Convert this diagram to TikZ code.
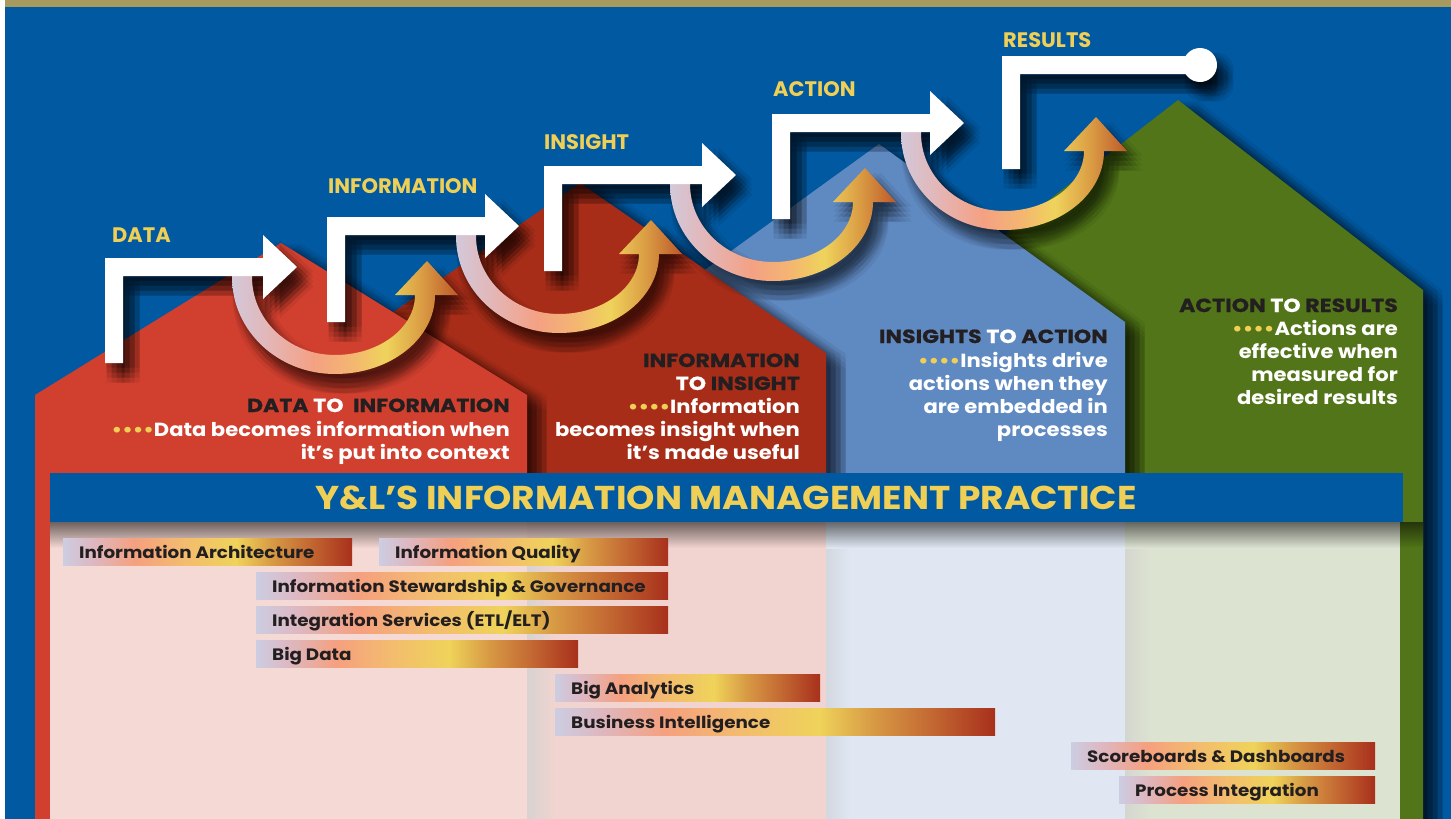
\documentclass[tikz,border=0pt]{standalone}
\usepackage{fontspec}
\setmainfont{Poppins}
\newfontfamily\headf{Poppins}[FakeStretch=1.16, BoldFeatures={FakeBold=0.6}]
\newfontfamily\bodyf{Poppins}[FakeStretch=1.11]
\newfontfamily\titlef{Poppins}[FakeStretch=1.09]
\newfontfamily\barf{Poppins}[FakeStretch=1.11]
\usetikzlibrary{calc}

\definecolor{bgblue}{HTML}{0059A1}
\definecolor{goldstrip}{HTML}{A69A5E}
\definecolor{hred}{HTML}{D1402F}
\definecolor{hdred}{HTML}{A72D19}
\definecolor{hblue}{HTML}{5F89C1}
\definecolor{hgreen}{HTML}{517518}
\definecolor{pred}{HTML}{F5D9D4}
\definecolor{pdred}{HTML}{F1D4CF}
\definecolor{pblue}{HTML}{E0E7F2}
\definecolor{pgreen}{HTML}{DCE3D1}
\definecolor{gold}{HTML}{EFCF55}
\definecolor{ink}{HTML}{231F20}
\definecolor{sred}{HTML}{D8D2D1}
\definecolor{sblue}{HTML}{D3D7DF}
\definecolor{sgreen}{HTML}{D4D6CF}

\definecolor{g0}{HTML}{CCCDE2}
\definecolor{g1}{HTML}{DDB8C2}
\definecolor{g2}{HTML}{F5A07F}
\definecolor{g3}{HTML}{F3BC6E}
\definecolor{g4}{HTML}{EFD35A}
\definecolor{g5}{HTML}{D89B45}
\definecolor{g6}{HTML}{C46A33}
\definecolor{g7}{HTML}{A8301C}

\definecolor{a0}{HTML}{D3C8DA}
\definecolor{a1}{HTML}{E6B3B0}
\definecolor{a2}{HTML}{F4A183}
\definecolor{a3}{HTML}{F4B472}
\definecolor{a4}{HTML}{EFD35C}
\definecolor{a5}{HTML}{DCA045}
\definecolor{a6}{HTML}{BD582A}

\pgfdeclarehorizontalshading{barshade}{100bp}{color(0bp)=(g0); color(25bp)=(g0); color(30bp)=(g1); color(37.5bp)=(g2); color(46bp)=(g3); color(55bp)=(g4); color(61bp)=(g5); color(67.5bp)=(g6); color(75bp)=(g7); color(100bp)=(g7)}
\pgfdeclarehorizontalshading{arcshade}{100bp}{color(0bp)=(a0); color(25bp)=(a0); color(34.5bp)=(a1); color(43bp)=(a2); color(51bp)=(a3); color(59bp)=(a4); color(66.5bp)=(a5); color(75bp)=(a6); color(100bp)=(a6)}

\def\redhouse{(35,840) -- (35,395) -- (281,243) -- (527,395) -- (527,840) -- cycle}
\def\dredhouse{(334,840) -- (334,353) -- (580,183) -- (826,353) -- (826,840) -- cycle}
\def\bluehouse{(633,840) -- (633,322) -- (879,144) -- (1125,322) -- (1125,840) -- cycle}
\def\greenhouse{(933,840) -- (933,290) -- (1178,100) -- (1423,290) -- (1423,840) -- cycle}
\def\wpath{(0,105) -- (0,0) -- (158,0) -- (158,-23) -- (192,9) -- (158,41) -- (158,18) -- (18,18) -- (18,105) -- cycle}
\def\wlast{(0,113) -- (0,0) -- (198,0) -- (198,18) -- (18,18) -- (18,113) -- cycle}
\def\arcpath{(232,270) -- (232,277) .. controls (232,331) and (278,374) .. (335,374) .. controls (390,374) and (435,339) .. (435,295) -- (458,295) -- (427,261) -- (395,295) -- (415,295) .. controls (415,328) and (379,355) .. (335,355) .. controls (289,355) and (252,320) .. (252,277) -- (252,270) -- cycle}

\tikzset{
  lab/.style={font=\fontsize{21}{21}\selectfont\bfseries, text=gold, inner sep=0pt, anchor=base west},
  head/.style={font=\headf\fontsize{19}{19}\selectfont\bfseries, text=ink, inner sep=0pt, anchor=base east},
  body/.style={font=\bodyf\fontsize{19}{19}\selectfont\bfseries, text=white, inner sep=0pt, anchor=base east},
  bartext/.style={font=\barf\fontsize{16.5}{16.5}\selectfont\bfseries, text=ink, inner sep=0pt, anchor=base west},
}
% soft shadow: many shifted translucent copies (box blur)
\newcommand\softsh[2]{%
  \foreach \sx in {-7.5,-2.5,2.5,7.5}{%
    \foreach \sy in {-7.5,-2.5,2.5,7.5}{%
      \begin{scope}[shift={(\sx,\sy)}, fill opacity=#1]
        #2
      \end{scope}}}}
\newcommand\goldbul{{\color{gold}••••}}

\begin{document}
\begin{tikzpicture}[x=1pt,y=-1pt]
\useasboundingbox (0,0) rectangle (1451,819);
\clip (0,0) rectangle (1451,819);
\fill[white] (0,0) rectangle (1451,819);
\fill[goldstrip] (5,0) rectangle (1451,7);
\fill[bgblue] (5,7) rectangle (1451,819);

% houses, back to front
\softsh{0.065}{\fill[black,shift={(12,8)}] \greenhouse;}
\fill[hgreen] \greenhouse;
\softsh{0.06}{\fill[black,shift={(12,8)}] \bluehouse;}
\fill[hblue] \bluehouse;
\softsh{0.06}{\fill[black,shift={(12,8)}] \dredhouse;}
\fill[hdred] \dredhouse;
\softsh{0.06}{\fill[black,shift={(12,8)}] \redhouse;}
\fill[hred] \redhouse;

% pale lower area
\fill[pred] (50,500) rectangle (527,819);
\fill[pdred] (527,500) rectangle (826,819);
\fill[pblue] (826,500) rectangle (1125,819);
\fill[pgreen] (1125,500) rectangle (1400,819);
\shade[left color=sred, right color=pdred] (527,500) rectangle (556,819);
\shade[left color=sblue, right color=pblue] (826,500) rectangle (850,819);
\shade[left color=sgreen, right color=pgreen] (1125,500) rectangle (1150,819);
\shade[top color=pred!45!black, bottom color=pred] (50,522) rectangle (527,548);
\shade[top color=pdred!45!black, bottom color=pdred] (527,522) rectangle (826,548);
\shade[top color=pblue!45!black, bottom color=pblue] (826,522) rectangle (1125,548);
\shade[top color=pgreen!45!black, bottom color=pgreen] (1125,522) rectangle (1400,548);
\shade[top color=hgreen!45!black, bottom color=hgreen] (1400,522) rectangle (1423,548);

% banner
\fill[bgblue] (50,473) rectangle (1403,522);
\node[font=\titlef\fontsize{33}{33}\selectfont\bfseries, text=gold, anchor=base, inner sep=0pt] (title) at (726,509) {Y\&L’S INFORMATION MANAGEMENT PRACTICE};

% block texts
\node[head] (t1a) at (510,412) {DATA {\color{white}TO}\hspace{0.5em}INFORMATION};
\node[body] (t1b) at (510,436) {\goldbul Data becomes information when};
\node[body] (t1c) at (510,459) {it’s put into context};

\node[head] (t2a) at (800,367) {INFORMATION};
\node[head] (t2b) at (800,390) {{\color{white}TO} INSIGHT};
\node[body] (t2c) at (800,413) {\goldbul Information};
\node[body] (t2d) at (800,436) {becomes insight when};
\node[body] (t2e) at (800,459) {it’s made useful};

\node[head] (t3a) at (1108,343) {INSIGHTS {\color{white}TO} ACTION};
\node[body] (t3b) at (1108,367) {\goldbul Insights drive};
\node[body] (t3c) at (1108,390) {actions when they};
\node[body] (t3d) at (1108,413) {are embedded in};
\node[body] (t3e) at (1108,436) {processes};

\node[head] (t4a) at (1398,312) {ACTION {\color{white}TO} RESULTS};
\node[body] (t4b) at (1398,335) {\goldbul Actions are};
\node[body] (t4c) at (1398,358) {effective when};
\node[body] (t4d) at (1398,381) {measured for};
\node[body] (t4e) at (1398,404) {desired results};

% bars
\foreach \i/\xa/\xb/\ya/\t in {
  1/63/352/538/{Information Architecture},
  2/379/668/538/{Information Quality},
  3/256/668/572/{Information Stewardship \& Governance},
  4/256/668/606/{Integration Services (ETL/ELT)},
  5/256/578/640/{Big Data},
  6/555/820/674/{Big Analytics},
  7/555/995/708/{Business Intelligence},
  8/1071/1375/742/{Scoreboards \& Dashboards},
  9/1119/1375/776/{Process Integration}} {
  \shade[shading=barshade] (\xa,\ya) rectangle (\xb,\ya+27);
  \node[bartext] (bar\i) at (\xa+16,\ya+20) {\t};
}

% shadows of arcs and arrows
\softsh{0.055}{\foreach \ax/\ay in {0/0,224/-41,438/-93,669/-144}{\fill[black,shift={(\ax+8,\ay+12)}] \arcpath;}}
\softsh{0.07}{\foreach \X/\Y in {105/258,327/217,544/166,772/114}{\fill[black,shift={(\X+9,\Y+12)}] \wpath;}
  \fill[black,shift={(1011,68)}] \wlast; \fill[black] (1209,77) circle[radius=17];}

% arcs
\foreach \ax/\ay in {0/0,224/-41,438/-93,669/-144}{
  \shade[shading=arcshade, shift={(\ax,\ay)}] \arcpath;
}
% white step arrows
\foreach \X/\Y in {105/258,327/217,544/166,772/114}{
  \fill[white, shift={(\X,\Y)}] \wpath;
}
\fill[white, shift={(1002,56)}] \wlast;
\fill[white] (1200,65) circle[radius=17];

% labels
\node[lab] (lData) at (112,242) {DATA};
\node[lab] (lInfo) at (328,193) {INFORMATION};
\node[lab] (lIns) at (544,149) {INSIGHT};
\node[lab] (lAct) at (773,96) {ACTION};
\node[lab] (lRes) at (1003,47) {RESULTS};
\end{tikzpicture}
\end{document}
